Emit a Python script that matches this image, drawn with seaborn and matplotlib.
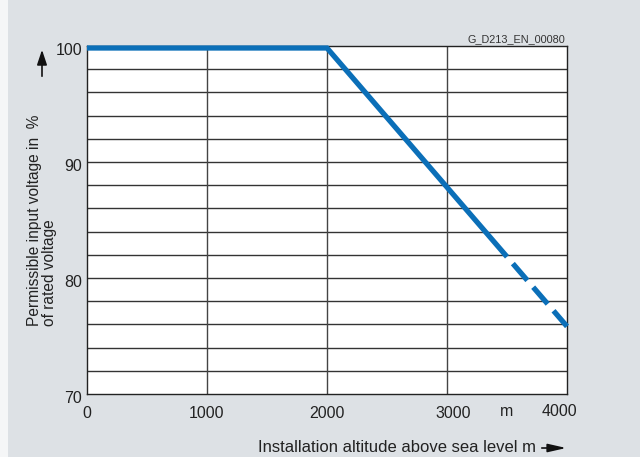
import matplotlib
matplotlib.use("Agg")
import matplotlib.pyplot as plt
import matplotlib.transforms as mtransforms
import matplotlib.patches as mpatches
import seaborn as sns
import pandas as pd

# Data
altitude_solid = [0, 2000, 3500]
voltage_solid = [100, 100, 82]
altitude_dashed = [3500, 4000]
voltage_dashed = [82, 76]
x_ticks = [0, 1000, 2000, 3000, 4000]
x_tick_labels = ["0", "1000", "2000", "3000", "4000"]
y_ticks = [70, 80, 90, 100]
y_tick_labels = ["70", "80", "90", "100"]
grid_y = list(range(72, 100, 2))
grid_x = [1000, 2000, 3000]

sns.set_style("white")
plt.rcParams['font.family'] = ['Liberation Sans', 'DejaVu Sans']

bg = "#dde1e5"
blue = "#0b6fb8"
txt = "#222222"

fig = plt.figure(figsize=(6.4, 4.57), dpi=100, facecolor=bg)
# light strip at the left edge
fig.patches.append(mpatches.Rectangle((0, 0), 8/640, 1, transform=fig.transFigure,
                                      facecolor="#f5f6f7", edgecolor="none", zorder=0))

ax = fig.add_axes([87/640, 1 - 394/457, 480/640, 348/457])
ax.set_facecolor("white")
ax.set_xlim(0, 4000)
ax.set_ylim(70, 100)

# grid
for yv in grid_y:
    ax.axhline(yv, color="#333333", lw=1.0, zorder=1)
for xv in grid_x:
    ax.axvline(xv, color="#444444", lw=1.0, zorder=1)

off = mtransforms.offset_copy(ax.transData, fig=fig, x=0, y=-2, units="dots")
df_s = pd.DataFrame({"alt": altitude_solid, "v": voltage_solid})
df_d = pd.DataFrame({"alt": altitude_dashed, "v": voltage_dashed})
sns.lineplot(data=df_s, x="alt", y="v", ax=ax, color=blue, lw=3.8,
             solid_capstyle="butt", solid_joinstyle="miter", zorder=3,
             clip_on=False, transform=off)
sns.lineplot(data=df_d, x="alt", y="v", ax=ax, color=blue, lw=3.8, zorder=3,
             clip_on=False, transform=off)
dl = ax.lines[-1]
dl.set_linestyle((4.2, (4.2, 1.7)))
dl.set_dash_capstyle("butt")

for s in ax.spines.values():
    s.set_color("#222222")
    s.set_linewidth(1.0)
    s.set_visible(True)

ax.set_xticks(x_ticks)
ax.set_xticklabels(x_tick_labels)
ax.set_yticks(y_ticks)
ax.set_yticklabels(y_tick_labels)
ax.tick_params(axis="both", length=0, labelsize=11.5, colors=txt)
ax.tick_params(axis="x", pad=9)
ax.tick_params(axis="y", pad=3.5)
ax.set_xlabel("")
ax.set_ylabel("")
for lab in ax.get_yticklabels():
    lab.set_transform(lab.get_transform() + mtransforms.ScaledTranslation(0, -3/100, fig.dpi_scale_trans))
# small per-label nudges seen in the reference
xlabs = ax.get_xticklabels()
xlabs[3].set_transform(xlabs[3].get_transform() + mtransforms.ScaledTranslation(6/100, 0, fig.dpi_scale_trans))
xlabs[4].set_transform(xlabs[4].get_transform() + mtransforms.ScaledTranslation(-8/100, 3/100, fig.dpi_scale_trans))

# y label
fig.text(42/640, 1 - 326/457, "Permissible input voltage in  %\nof rated voltage",
         rotation=90, ha="center", va="bottom", multialignment="left",
         fontsize=11.2, color=txt, linespacing=1.05)
fig.patches.append(mpatches.FancyArrowPatch(
    (42/640, 1 - 79/457), (42/640, 1 - 47/457), transform=fig.transFigure,
    arrowstyle="-|>,head_length=9,head_width=3", color="#111111", lw=1.2,
    mutation_scale=1))

# x label
fig.text(536/640, 1 - 447/457, "Installation altitude above sea level m",
         ha="right", va="center", fontsize=12, color=txt)
fig.patches.append(mpatches.FancyArrowPatch(
    (539/640, 1 - 448/457), (569/640, 1 - 448/457), transform=fig.transFigure,
    arrowstyle="-|>,head_length=11,head_width=2.5", color="#111111", lw=1.2,
    mutation_scale=1))

fig.text(507/640, 1 - 412/457, "m", ha="center", va="center", fontsize=11.5, color=txt)
fig.text(565/640, 1 - 39/457, "G_D213_EN_00080", ha="right", va="center",
         fontsize=7.8, color="#333333")

fig.savefig("out.png", dpi=100, facecolor=bg)
